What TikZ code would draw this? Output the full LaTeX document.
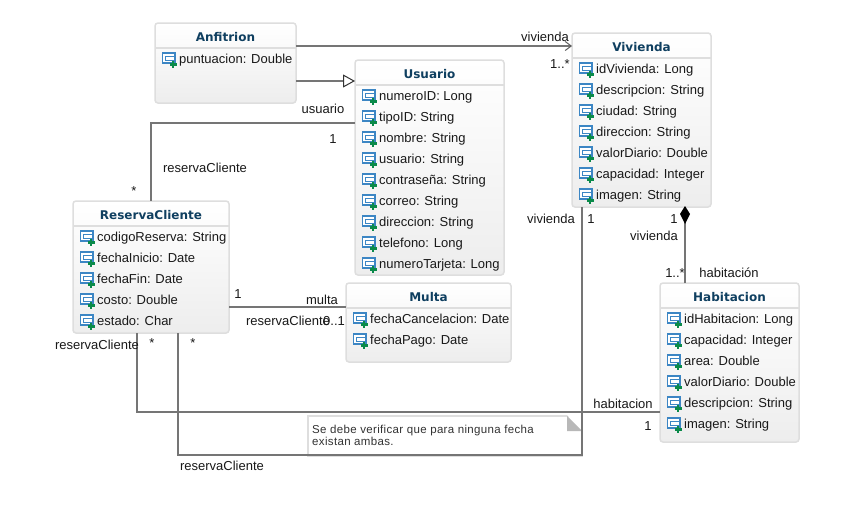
\documentclass[tikz,border=0pt]{standalone}
\usepackage{fontspec}
\setmainfont{Liberation Sans}
\newfontfamily\titlefont{DejaVu Sans}
\usetikzlibrary{arrows.meta}
\definecolor{linegray}{HTML}{757575}
\definecolor{boxedge}{HTML}{DEDEDE}
\definecolor{titleblue}{HTML}{0F3F60}
\definecolor{iconblue}{HTML}{3C86C4}
\definecolor{icongreen}{HTML}{0A8A4A}
\tikzset{
  x=1pt,y=1pt,
  classbox/.style={draw=boxedge,line width=1.5pt,rounded corners=3pt,top color=white,bottom color=black!7,anchor=north west,inner sep=0pt,outer sep=0pt},
  classtitle/.style={font=\titlefont\bfseries\fontsize{12}{14}\selectfont,text=titleblue,inner sep=0pt,anchor=base},
  attr/.style={font=\fontsize{13}{15}\selectfont,anchor=base west,inner sep=0pt,text=black!90},
  lab/.style={font=\fontsize{13}{15}\selectfont,inner sep=0pt,anchor=base,text=black!90},
  notetext/.style={font=\fontsize{11.5}{12}\selectfont\addfontfeature{LetterSpace=3},anchor=base west,inner sep=0pt,text=black!80},
  conn/.style={draw=linegray,line width=1.6pt},
  divider/.style={draw=boxedge,line width=1.3pt},
}
\newcommand{\attrib}[4]{% left x, centre y, name suffix, text
  \draw[iconblue,line width=1.3pt,fill=white] (#1+0.5,-#2+6) rectangle (#1+13,-#2-4);
  \draw[iconblue,line width=1pt] (#1+3.5,-#2+3) rectangle (#1+13,-#2-1);
  \draw[icongreen,line width=2.2pt] (#1+7.5,-#2-5.5) -- (#1+14.5,-#2-5.5) (#1+11,-#2-2) -- (#1+11,-#2-9);
  \node[attr] (#3) at (#1+17,-#2-4.5) {#4};
}
\newcommand{\umlclass}[7]{% name, title, x0, y0, x1, y1, dividerY
  \node[classbox,minimum width=#5-#3,minimum height=#6-#4] (#1) at (#3,-#4) {};
  \draw[divider] (#3,-#7) -- (#5,-#7);
  \node[classtitle] (#1t) at ({(#3+#5)/2},{-(#4+#7)/2-5.5}) {#2};
}
\begin{document}
\begin{tikzpicture}
\useasboundingbox[fill=white] (0,0) rectangle (849,-525);

% classes
\umlclass{anf}{Anfitrion}{155}{23}{296}{103}{48}
\attrib{162}{59}{a1}{puntuacion: Double}

\umlclass{usu}{Usuario}{355}{60}{504}{275}{85}
\attrib{362}{96}{u1}{numeroID: Long}
\attrib{362}{117}{u2}{tipoID: String}
\attrib{362}{138}{u3}{nombre: String}
\attrib{362}{159}{u4}{usuario: String}
\attrib{362}{180}{u5}{contraseña: String}
\attrib{362}{201}{u6}{correo: String}
\attrib{362}{222}{u7}{direccion: String}
\attrib{362}{243}{u8}{telefono: Long}
\attrib{362}{264}{u9}{numeroTarjeta: Long}

\umlclass{viv}{Vivienda}{572}{33}{711}{207}{58}
\attrib{579}{69}{v1}{idVivienda: Long}
\attrib{579}{90}{v2}{descripcion: String}
\attrib{579}{111}{v3}{ciudad: String}
\attrib{579}{132}{v4}{direccion: String}
\attrib{579}{153}{v5}{valorDiario: Double}
\attrib{579}{174}{v6}{capacidad: Integer}
\attrib{579}{195}{v7}{imagen: String}

\umlclass{res}{ReservaCliente}{73}{201}{229}{333}{226}
\attrib{80}{237}{r1}{codigoReserva: String}
\attrib{80}{258}{r2}{fechaInicio: Date}
\attrib{80}{279}{r3}{fechaFin: Date}
\attrib{80}{300}{r4}{costo: Double}
\attrib{80}{321}{r5}{estado: Char}

\umlclass{mul}{Multa}{346}{283}{511}{362}{308}
\attrib{353}{319}{m1}{fechaCancelacion: Date}
\attrib{353}{340}{m2}{fechaPago: Date}

\umlclass{hab}{Habitacion}{660}{283}{799}{442}{308}
\attrib{667}{319}{h1}{idHabitacion: Long}
\attrib{667}{340}{h2}{capacidad: Integer}
\attrib{667}{361}{h3}{area: Double}
\attrib{667}{382}{h4}{valorDiario: Double}
\attrib{667}{403}{h5}{descripcion: String}
\attrib{667}{424}{h6}{imagen: String}

% note
\node[draw=boxedge,line width=1.3pt,fill=white,anchor=north west,minimum width=274,minimum height=40,inner sep=0pt,outer sep=0pt] (note) at (308,-416) {};
\fill[white] (567,-415) -- (583,-415) -- (583,-431) -- cycle;
\fill[black!28] (567,-416) -- (567,-431) -- (582,-431) -- cycle;
\node[notetext] (notea) at (312,-433) {Se debe verificar que para ninguna fecha};
\node[notetext] (noteb) at (312,-445) {existan ambas.};

% connectors
\coordinate (b1) at (151,-123);
\coordinate (b2) at (137,-412);
\coordinate (b3) at (178,-455);
\coordinate (b4) at (582,-455);
\draw[conn,-{Straight Barb[length=6pt,width=9pt,line width=1pt,color=linegray!80!black]}] ([yshift=-23pt]anf.north east) -- ([yshift=-13pt]viv.north west);
\draw[conn,-{Triangle[open,length=12pt,width=13pt,line width=1pt,color=black!80,fill=white]}] ([yshift=-58pt]anf.north east) -- ([yshift=-21pt]usu.north west);
\draw[conn] ([yshift=-63pt]usu.north west) -- (b1) -- (b1 |- res.north);
\draw[conn] ([yshift=-106pt]res.north east) -- ([yshift=-24pt]mul.north west);
\draw[conn] (b2 |- res.south) -- (b2) -- (b2 -| hab.west);
\draw[conn] (b3 |- res.south) -- (b3) -- (b4) -- (b4 |- viv.south);
\draw[conn] ([xshift=25pt]hab.north west) -- ([xshift=-26pt]viv.south east);
\fill[black] (685,-206) -- (690,-214) -- (685,-224) -- (680,-214) -- cycle;

% labels
\node[lab] (l1) at (545,-41) {vivienda};
\node[lab] (l2) at (560,-68) {1..*};
\node[lab] (l3) at (323,-113) {usuario};
\node[lab] (l4) at (333,-143) {1};
\node[lab] (l5) at (205,-172) {reservaCliente};
\node[lab] (l6) at (134,-195) {*};
\node[lab] (l7) at (238,-298) {1};
\node[lab] (l8) at (322,-304) {multa};
\node[lab] (l9) at (288,-325) {reservaCliente};
\node[lab] (l10) at (334,-325) {0..1};
\node[lab] (l11) at (97,-349) {reservaCliente};
\node[lab] (l12) at (152,-347) {*};
\node[lab] (l13) at (193,-347) {*};
\node[lab] (l14) at (623,-408) {habitacion};
\node[lab] (l15) at (648,-430) {1};
\node[lab] (l16) at (222,-470) {reservaCliente};
\node[lab] (l17) at (551,-223) {vivienda};
\node[lab] (l18) at (591,-223) {1};
\node[lab] (l19) at (674,-223) {1};
\node[lab] (l20) at (654,-240) {vivienda};
\node[lab] (l21) at (675,-277) {1..*};
\node[lab] (l22) at (729,-277) {habitación};
\end{tikzpicture}
\end{document}
